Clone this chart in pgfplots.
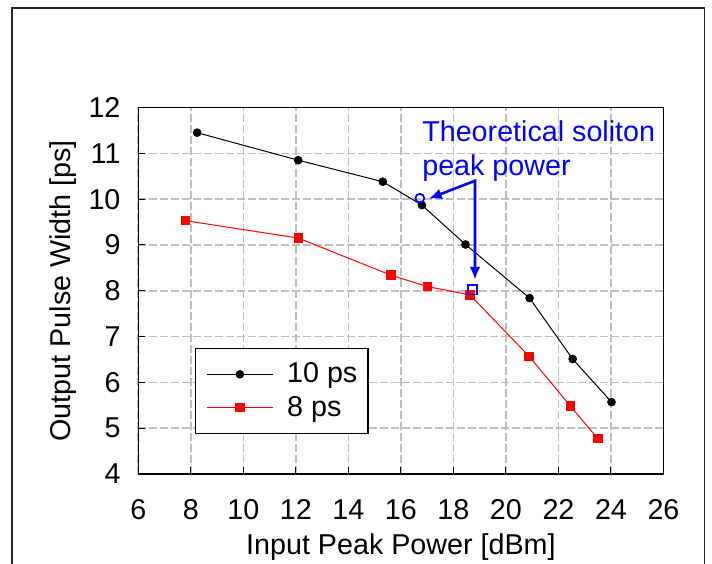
\documentclass[border=0pt]{standalone}
\usepackage{fontspec}
\setmainfont{Liberation Sans}
\usepackage{pgfplots}
\pgfplotsset{compat=1.18}
\usetikzlibrary{arrows.meta}
\definecolor{gridgray}{RGB}{190,190,190}
\definecolor{annblue}{RGB}{0,0,255}

\begin{document}
\begin{tikzpicture}
\begin{axis}[
  scale only axis, width=262.6bp, height=183.25bp,
  xmin=6, xmax=26, ymin=4, ymax=12,
  xtick={6,8,...,26}, ytick={4,5,...,12},
  tick align=inside, xtick pos=left, ytick pos=left,
  major tick length=3.5bp,
  tick style={black, line width=0.5bp},
  grid=major,
  major grid style={gridgray, line width=0.8bp, dash pattern=on 4bp off 1.5bp},
  axis line style={black, line width=0.7bp},
  /pgf/number format/assume math mode=true,
  ticklabel style={font=\fontsize{14.4}{17}\selectfont},
  yticklabel style={xshift=-5.4bp},
  xticklabel style={yshift=-9.2bp},
  label style={font=\fontsize{14.4}{17}\selectfont},
  xlabel={Input Peak Power [dBm]},
  ylabel={Output Pulse Width [ps]},
  xlabel style={at={(axis description cs:0.5,-0.1992)}, anchor=center},
  ylabel style={at={(axis description cs:-0.1439,0.5)}, anchor=center},
  legend style={at={(axis description cs:0.1085,0.3446)}, anchor=north west,
    draw=black, line width=0.6bp, font=\fontsize{14.4}{17}\selectfont,
    inner xsep=5.35bp, inner ysep=7.25bp, row sep=5.1bp, column sep=7bp,
    nodes={inner sep=0pt}},
  legend cell align=left,
  legend image code/.code={\draw[#1, mark repeat=2, mark phase=2]
    plot coordinates {(0bp,0bp) (16.4bp,0bp) (32.8bp,0bp)};},
]
\addplot[black, line width=0.5bp, mark=*, mark size=1.9bp, mark options={solid}]
  coordinates {(8.24,11.45) (12.09,10.85) (15.31,10.38) (16.80,9.87)
               (18.46,9.01) (20.90,7.84) (22.54,6.51) (24.02,5.57)};
\addlegendentry{10 ps}
\addplot[red, line width=0.5bp, mark=square*, mark size=2.1bp, mark options={solid}]
  coordinates {(7.80,9.53) (12.09,9.15) (15.62,8.34) (17.02,8.09)
               (18.63,7.91) (20.88,6.57) (22.46,5.48) (23.50,4.77)};
\addlegendentry{8 ps}
% theoretical soliton peak power
\addplot[only marks, annblue, mark=o, mark size=2.2bp, line width=0.9bp, forget plot]
  coordinates {(16.72,10.02)};
\addplot[only marks, annblue, mark=square, mark size=2.3bp, line width=0.9bp, forget plot]
  coordinates {(18.72,8.02)};

\node[annblue, anchor=base west, inner sep=0pt, font=\fontsize{14.4}{17}\selectfont]
  at (axis cs:16.80,11.254) {Theoretical soliton};
\node[annblue, anchor=base west, inner sep=0pt, font=\fontsize{14.4}{17}\selectfont]
  at (axis cs:16.80,10.505) {peak power};
\draw[annblue, line width=1.3bp, {Latex[length=6.5bp,width=5.5bp]}-{Latex[length=6.5bp,width=5.5bp]}]
  (axis cs:17.06,10.01) -- (axis cs:18.82,10.40) -- (axis cs:18.82,8.24);
\end{axis}
% outer frame, cut off at the bottom
\draw[black!85, line width=0.8bp] (-63.15bp,-60bp) -- (-63.15bp,233bp) -- (283bp,233bp) -- (283bp,-60bp);
\pgfresetboundingbox
\path[use as bounding box] (-69.15bp,-45bp) rectangle (286.85bp,237bp);
\end{tikzpicture}
\end{document}
